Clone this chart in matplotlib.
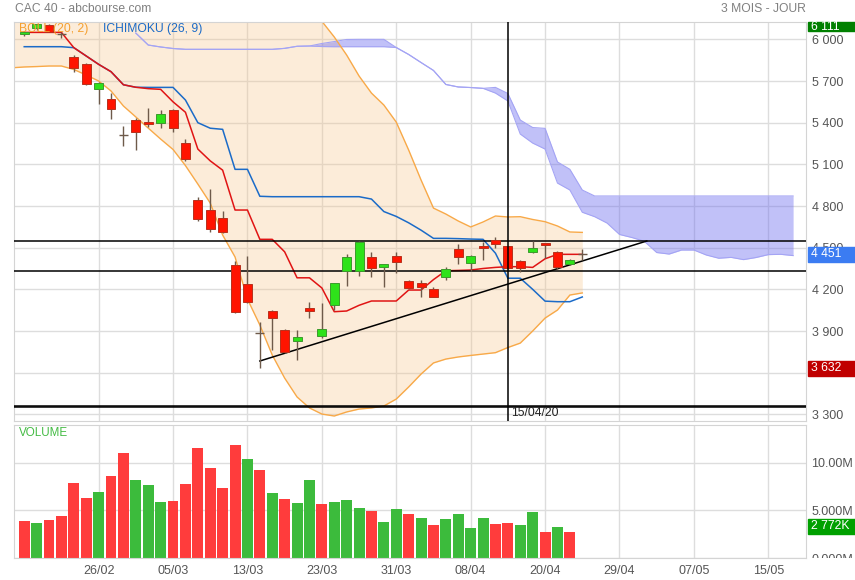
import numpy as np
import matplotlib.pyplot as plt
from matplotlib.patches import Rectangle
from matplotlib.transforms import Bbox, TransformedBbox, blended_transform_factory
from matplotlib.ticker import FuncFormatter

plt.rcParams['font.family'] = ['Liberation Sans', 'DejaVu Sans']

# trading day index 0 = 18/02/2020, last candle 23/04/2020
tick_pos = [6, 12, 18, 24, 30, 36, 42, 48, 54, 60]
tick_lbl = ['26/02', '05/03', '13/03', '23/03', '31/03', '08/04', '20/04',
            '29/04', '07/05', '15/05']

opens = [6036, 6079, 6103, 6038, 5870, 5822, 5640, 5568, 5311, 5419,
         5405, 5395, 5491, 5251, 4843, 4771, 4711, 4375, 4238, 3883,
         4044, 3907, 3830, 4068, 3866, 4087, 4334, 4334, 4430, 4358,
         4440, 4258, 4243, 4200, 4291, 4490, 4392, 4511, 4555, 4511,
         4404, 4466, 4531, 4466, 4380, 4451]
highs = [6060, 6111, 6108, 6052, 5887, 5831, 5690, 5611, 5376, 5431,
         5508, 5491, 5495, 5280, 4867, 4922, 4764, 4404, 4440, 3962,
         4048, 3915, 3907, 4106, 4099, 4248, 4454, 4545, 4469, 4385,
         4469, 4267, 4267, 4219, 4358, 4526, 4445, 4543, 4574, 4515,
         4410, 4548, 4535, 4478, 4415, 4490]
lows = [6025, 6070, 6050, 6009, 5767, 5670, 5532, 5424, 5234, 5203,
        5371, 5359, 5330, 5124, 4694, 4615, 4605, 4031, 4105, 3632,
        3763, 3745, 3691, 3991, 3847, 4051, 4226, 4298, 4291, 4219,
        4315, 4205, 4147, 4145, 4267, 4382, 4334, 4411, 4500, 4345,
        4327, 4460, 4423, 4350, 4375, 4411]
closes = [6055, 6110, 6055, 6038, 5791, 5676, 5683, 5496, 5311, 5330,
          5388, 5460, 5359, 5136, 4704, 4632, 4610, 4039, 4111, 3883,
          3991, 3751, 3854, 4046, 3914, 4243, 4430, 4541, 4351, 4380,
          4394, 4210, 4219, 4147, 4346, 4435, 4440, 4500, 4524, 4351,
          4351, 4497, 4521, 4358, 4411, 4451]

# volume in millions, colour code per bar
volumes = [3.87, 3.66, 4.04, 4.42, 7.88, 6.31, 6.94, 8.64, 11.01, 8.19,
           7.63, 5.89, 5.99, 7.74, 11.57, 9.41, 7.39, 11.85, 10.35, 9.24,
           6.80, 6.24, 5.82, 8.19, 5.68, 5.89, 6.06, 5.30, 4.98, 3.76,
           5.19, 4.67, 4.25, 3.48, 4.11, 4.63, 3.17, 4.22, 3.59, 3.72,
           3.48, 4.87, 2.78, 3.24, 2.772]
vol_dir = 'rgrrrrgrrgggrrrrrrgrgrggrgggrggrgrggggrrggrg'

# bollinger (20, 2), first value is the day before 18/02
boll_up = [6160, 6165, 6170, 6175, 6180, 6190, 6200, 6215, 6230, 6250,
           6270, 6290, 6300, 6310, 6330, 6370, 6400, 6420, 6450, 6470,
           6460, 6430, 6400, 6360, 6250, 6130, 6017, 5887, 5736, 5613,
           5527, 5404, 5203, 4987, 4785, 4742, 4692, 4649, 4685, 4728,
           4721, 4723, 4703, 4687, 4656, 4613, 4610]
boll_dn = [5795, 5801, 5804, 5808, 5808, 5783, 5743, 5700, 5628, 5520,
           5441, 5361, 5282, 5207, 5091, 4958, 4821, 4591, 4433, 4130,
           3943, 3727, 3561, 3425, 3346, 3302, 3288, 3317, 3338, 3346,
           3360, 3410, 3497, 3590, 3670, 3698, 3713, 3724, 3734, 3744,
           3781, 3813, 3900, 3993, 4051, 4159, 4174]

tenkan = [6050, 6050, 6050, 6050, 5940, 5880, 5820, 5767, 5673, 5655,
          5645, 5640, 5550, 5475, 5210, 5125, 5058, 4771, 4771, 4560,
          4560, 4470, 4283, 4283, 4210, 4039, 4044, 4085, 4116, 4116,
          4116, 4195, 4195, 4270, 4334, 4336, 4339, 4350, 4358, 4363,
          4363, 4358, 4420, 4452, 4452, 4452]
kijun = [5947, 5947, 5947, 5947, 5940, 5880, 5820, 5767, 5673, 5655,
         5654, 5654, 5654, 5563, 5400, 5360, 5352, 5064, 5064, 4870,
         4867, 4867, 4867, 4867, 4867, 4867, 4867, 4867, 4850, 4760,
         4725, 4679, 4626, 4567, 4567, 4565, 4562, 4560, 4460, 4280,
         4280, 4200, 4115, 4111, 4111, 4145]

# ichimoku cloud, from day index 9 to 62
cloud_start = 9
senkou_a = [6045, 5959, 5945, 5934, 5928, 5928, 5928, 5928, 5928, 5928,
            5928, 5928, 5935, 5950, 5952, 5970, 5984, 5999, 6000, 6000,
            6000, 5941, 5891, 5833, 5776, 5675, 5657, 5653, 5647, 5654,
            5610, 5419, 5365, 5359, 5117, 5064, 4915, 4872, 4872, 4872,
            4872, 4872, 4872, 4872, 4872, 4872, 4872, 4872, 4872, 4872,
            4872, 4872, 4872, 4872]
senkou_b = [6045, 5959, 5945, 5934, 5928, 5928, 5928, 5928, 5928, 5928,
            5928, 5928, 5935, 5950, 5952, 5948, 5947, 5947, 5947, 5947,
            5947, 5941, 5891, 5833, 5776, 5675, 5657, 5653, 5647, 5613,
            5556, 5318, 5253, 5210, 4965, 4915, 4755, 4723, 4677, 4595,
            4573, 4546, 4465, 4454, 4483, 4483, 4447, 4424, 4430, 4414,
            4429, 4450, 4452, 4443]

trend_x = [19, 50.2]
trend_y = [3684, 4548]
levels = [4548, 4330, 3362, 3352]
cross_day = 39
cross_lbl = '15/04/20'

W, H = 855, 580
fig = plt.figure(figsize=(W / 100, H / 100), dpi=100)
L, R = 14.3, 806
ax = fig.add_axes([L / W, 1 - 421 / H, (R - L) / W, (421 - 21.7) / H])
axv = fig.add_axes([L / W, 1 - 558.3 / H, (R - L) / W, (558.3 - 425) / H])

grid_c = '#dddddd'
for a in (ax, axv):
    a.set_xlim(-0.8, 63.04)
    a.set_xticks(tick_pos)
    a.grid(True, color=grid_c, lw=1)
    a.set_axisbelow(True)
    a.yaxis.tick_right()
    a.tick_params(axis='both', length=0, labelsize=9, labelcolor='#555555')
    for s in a.spines.values():
        s.set_color('#d4d4d4')

ax.set_ylim(3252, 6127)
ax.set_yticks(range(3300, 6001, 300))
ax.yaxis.set_major_formatter(FuncFormatter(lambda v, p: f'{int(v):,}'.replace(',', ' ')))
ax.tick_params(axis='y', pad=4)
ax.tick_params(axis='x', labelbottom=False)

x = np.arange(len(opens))
bx = np.arange(-1, len(boll_up) - 1)
cx = np.arange(cloud_start, cloud_start + len(senkou_a))

ax.fill_between(bx, boll_dn, boll_up, color='#f7c58a', alpha=0.32, lw=0, zorder=1)
ax.plot(bx, boll_up, color='#f8a948', lw=1, zorder=2)
ax.plot(bx, boll_dn, color='#f8a948', lw=1, zorder=2)

ax.fill_between(cx, senkou_b, senkou_a, color='#6c6cf0', alpha=0.42, lw=0, zorder=1.5)
ax.plot(cx, senkou_a, color='#a4a4f4', lw=0.8, zorder=1.6)
ax.plot(cx, senkou_b, color='#a4a4f4', lw=0.8, zorder=1.6)

ax.plot(x, kijun, color='#1b6bc8', lw=1.1, zorder=2.8)
ax.plot(x, tenkan, color='#e01414', lw=1.1, zorder=3)

for lv in levels:
    ax.axhline(lv, color='black', lw=1.1, zorder=4)
ax.plot(trend_x, trend_y, color='black', lw=1.1, zorder=4)

# candles
wick_c = '#6e5a4a'
ax.vlines(x, lows, highs, color=wick_c, lw=1, zorder=5)
o = np.array(opens, float)
c = np.array(closes, float)
body = np.abs(c - o) > 5
up = c > o
ax.bar(x[body], np.abs(c - o)[body], bottom=np.minimum(o, c)[body], width=0.72,
       color=np.where(up, '#2ee21a', '#ff1400')[body],
       edgecolor=np.where(up, '#3c9a2c', '#b8301c')[body], lw=0.7, zorder=6)
ax.hlines(c[~body], x[~body] - 0.36, x[~body] + 0.36, color=wick_c, lw=1, zorder=6)

ax.axvline(cross_day, color='black', lw=1.1, zorder=7)
ax.text(cross_day + 0.25, 0.004, cross_lbl, transform=blended_transform_factory(ax.transData, ax.transAxes),
        fontsize=8.7, color='#222222', va='bottom', ha='left', zorder=8)

# volume
axv.bar(np.arange(len(volumes)), volumes, width=0.88,
        color=['#ff3c3c' if d == 'r' else '#3cbb3c' for d in vol_dir], zorder=2)
axv.set_ylim(0, 13.94)
axv.set_yticks([0, 5, 10])
axv.set_yticklabels(['0.000M', '5.000M', '10.00M'])
axv.tick_params(axis='y', pad=4)
axv.tick_params(axis='x', pad=5)
axv.set_xticklabels(tick_lbl)

tags = {ax: [], axv: []}


def tag(a, value, label, color, dy=0):
    top = a.get_position().y1 * H
    yc = a.transData.transform((0, value))[1] + dy
    y0, y1 = yc - 7.5, min(yc + 7.5, top)
    fig.patches.append(Rectangle((808 / W, y0 / H), 47 / W, (y1 - y0) / H,
                                 transform=fig.transFigure, color=color, zorder=10))
    fig.text(811 / W, (y0 + y1) / 2 / H, label, color='white', fontsize=8.7,
             va='center', ha='left', zorder=11)
    tags[a].append((y0, y1))


tag(ax, max(highs), '6 111', '#008000')
tag(ax, closes[-1], '4 451', '#3b7cf2')
tag(ax, min(lows), '3 632', '#c00000')
tag(axv, volumes[-1], '2 772K', '#00a000', dy=5.5)

# clip right labels to their panel, and hide the part a tag covers
for a in (ax, axv):
    bb = a.get_position()
    for v, t in zip(a.get_yticks(), a.get_yticklabels()):
        lo, hi = bb.y0 * H, bb.y1 * H
        yc = a.transData.transform((0, v))[1]
        for y0, y1 in tags[a]:
            if y0 - 6 < yc < y1 + 6:
                if yc > (y0 + y1) / 2:
                    lo = max(lo, y1)
                else:
                    hi = min(hi, y0)
        clip = TransformedBbox(Bbox([[bb.x0, lo / H], [1, max(lo, hi) / H]]), fig.transFigure)
        t.set_clip_box(clip)
        t.set_clip_on(True)

fig.text(15 / W, 1 - 8.5 / H, 'CAC 40 - abcbourse.com', color='#808080', fontsize=8.7, va='center')
fig.text(805.7 / W, 1 - 8.5 / H, '3 MOIS - JOUR', color='#808080', fontsize=8.7, va='center', ha='right')
fig.text(19.3 / W, 1 - 29.3 / H, 'BOLL (20, 2)', color='#f5a030', fontsize=8.7, va='center', zorder=9)
fig.text(103.3 / W, 1 - 29.3 / H, 'ICHIMOKU (26, 9)', color='#1b6bc8', fontsize=8.7, va='center', zorder=9)
fig.text(19 / W, 1 - 433.5 / H, 'VOLUME', color='#44bb44', fontsize=8.4, va='center')

fig.savefig('out.png')
